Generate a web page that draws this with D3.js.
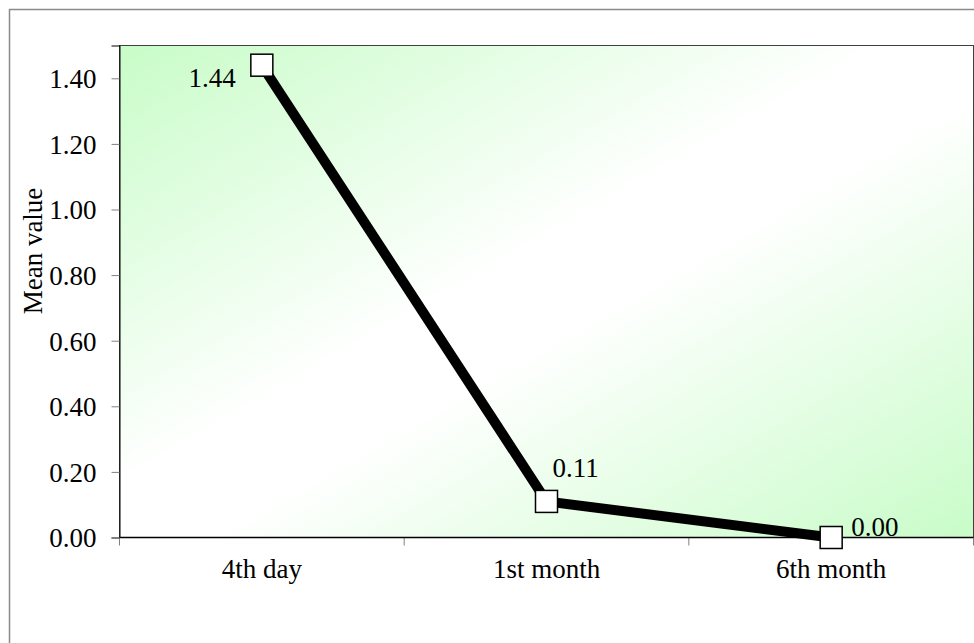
<!DOCTYPE html>
<html>
<head>
<meta charset="utf-8">
<script src="https://cdn.jsdelivr.net/npm/d3@7"></script>
<style>
  html, body { margin: 0; padding: 0; background: #ffffff; }
  svg { display: block; }
  text { font-family: "Liberation Serif", "Times New Roman", serif; fill: #000; }
</style>
</head>
<body>
<svg id="chart" width="974" height="643"></svg>
<script>
// Mean value over follow-up
const categories = ["4th day", "1st month", "6th month"];
const values = [1.44, 0.11, 0.00];
const labels = ["1.44", "0.11", "0.00"];
const yTicks = [0, 0.2, 0.4, 0.6, 0.8, 1.0, 1.2, 1.4];
const yTitle = "Mean value";

const FS = 27;
const svg = d3.select("#chart");
const plot = { left: 119.5, top: 45.5, right: 973.5, bottom: 537.5 };

// outer frame
svg.append("rect")
  .attr("x", 9.5).attr("y", 9.5)
  .attr("width", 980).attr("height", 650)
  .attr("fill", "#fff").attr("stroke", "#8a8a8a").attr("stroke-width", 1.5);

// diagonal two-tone gradient for plot background
const defs = svg.append("defs");
const grad = defs.append("linearGradient").attr("id", "bg")
  .attr("x1", 0).attr("y1", 0).attr("x2", 1).attr("y2", 1);
grad.append("stop").attr("offset", 0).attr("stop-color", "#c8fcc8");
grad.append("stop").attr("offset", 0.45).attr("stop-color", "#ffffff");
grad.append("stop").attr("offset", 0.55).attr("stop-color", "#ffffff");
grad.append("stop").attr("offset", 1).attr("stop-color", "#c8fcc8");

const x = d3.scaleBand().domain(categories).range([plot.left, plot.right]);
const y = d3.scaleLinear().domain([0, 1.5]).range([plot.bottom, plot.top]);

svg.append("rect")
  .attr("x", plot.left).attr("y", plot.top)
  .attr("width", plot.right - plot.left).attr("height", plot.bottom - plot.top)
  .attr("fill", "url(#bg)").attr("stroke", "#404040").attr("stroke-width", 1);

// y axis
const yAxis = svg.append("g").attr("transform", `translate(${plot.left},0)`)
  .call(d3.axisLeft(y).tickValues(yTicks).tickFormat(d3.format(".2f")).tickSize(8).tickPadding(15));
yAxis.attr("font-family", null).attr("font-size", null);
yAxis.select(".domain").attr("stroke", "#000");
yAxis.selectAll(".tick line").attr("stroke", "#808080");
yAxis.selectAll(".tick text").attr("font-size", FS).attr("dy", "0.35em");

// x axis: ticks at category boundaries
const xAxis = svg.append("g").attr("transform", `translate(0,${plot.bottom})`)
  .call(d3.axisBottom(x).tickSize(0).tickPadding(21));
xAxis.attr("font-family", null).attr("font-size", null);
xAxis.select(".domain").remove();
xAxis.selectAll(".tick text").attr("font-size", FS);
const bounds = categories.map(c => x(c)).concat([x(categories[categories.length - 1]) + x.bandwidth()]);
xAxis.selectAll(".bound").data(bounds).enter().append("line")
  .attr("x1", d => d).attr("x2", d => d).attr("y1", 0).attr("y2", 8)
  .attr("stroke", "#808080");
xAxis.append("line")
  .attr("x1", plot.left).attr("x2", plot.right).attr("y1", 0).attr("y2", 0)
  .attr("stroke", "#000").attr("stroke-width", 1.5);

// y title
svg.append("text")
  .attr("transform", "translate(42,251) rotate(-90)")
  .attr("text-anchor", "middle").attr("font-size", FS)
  .text(yTitle);

// series line
const pts = categories.map((c, i) => [x(c) + x.bandwidth() / 2, y(values[i])]);
svg.append("path")
  .attr("d", d3.line()(pts))
  .attr("fill", "none").attr("stroke", "#000").attr("stroke-width", 10)
  .attr("stroke-linejoin", "miter");

// markers
const ms = 22;
svg.selectAll(".marker").data(pts).enter().append("rect")
  .attr("x", d => d[0] - ms / 2).attr("y", d => d[1] - ms / 2)
  .attr("width", ms).attr("height", ms)
  .attr("fill", "#fff").attr("stroke", "#000").attr("stroke-width", 1.5);

// value labels
const labelPos = [
  { dx: -26, dy: 22, anchor: "end" },
  { dx: 6, dy: -24, anchor: "start" },
  { dx: 20, dy: -2, anchor: "start" }
];
svg.selectAll(".vlabel").data(pts).enter().append("text")
  .attr("x", (d, i) => d[0] + labelPos[i].dx)
  .attr("y", (d, i) => d[1] + labelPos[i].dy)
  .attr("text-anchor", (d, i) => labelPos[i].anchor)
  .attr("font-size", FS)
  .text((d, i) => labels[i]);
</script>
</body>
</html>
